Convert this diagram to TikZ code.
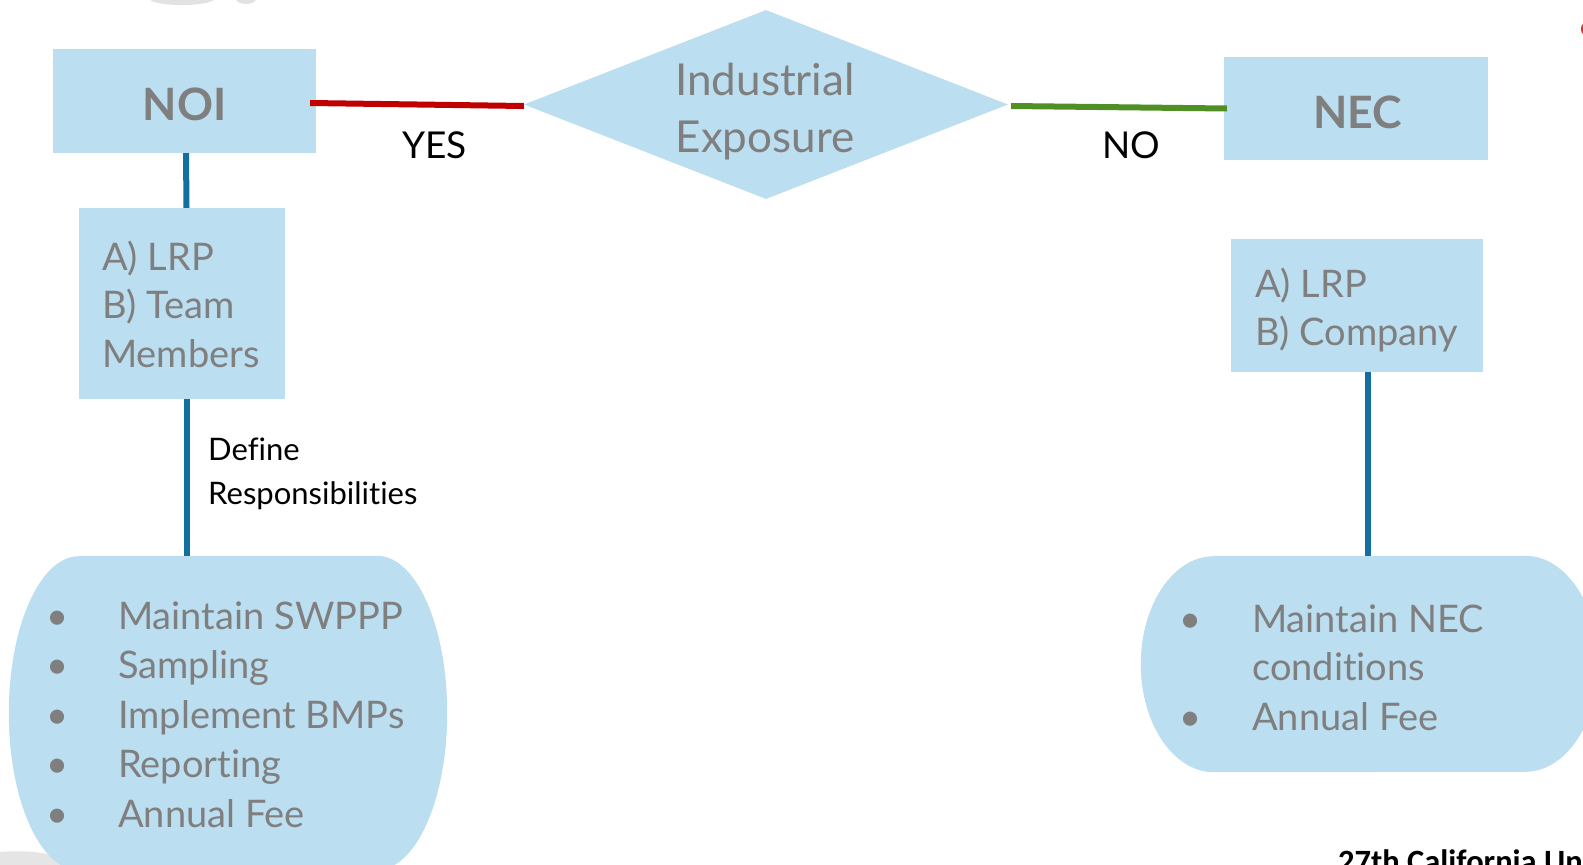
\documentclass[tikz,border=0pt]{standalone}
\usepackage{fontspec}
\setmainfont{Lato}[Ligatures=NoCommon]
\newfontfamily\footfont{Carlito}
\usetikzlibrary{shapes.geometric,calc}
\definecolor{bxfill}{HTML}{BBDEF0}
\definecolor{txtgray}{HTML}{7F7F7F}
\definecolor{linkblue}{HTML}{136FA0}
\definecolor{yesred}{HTML}{C00000}
\definecolor{nogreen}{HTML}{4F8F23}
\begin{document}
\begin{tikzpicture}[x=1pt,y=-1pt,
  bx/.style={fill=bxfill, draw=none, inner sep=0pt},
  ghost/.style={draw=none, inner sep=0pt},
  gtxt/.style={text=txtgray, inner sep=0pt, font=\fontsize{38}{49}\selectfont},
  bigtxt/.style={text=txtgray, inner sep=0pt, font=\fontsize{44}{57}\selectfont},
  bigbold/.style={text=txtgray, inner sep=0pt, font=\fontsize{44.6}{57}\selectfont\bfseries},
  lbl/.style={text=black, inner sep=0pt, font=\fontsize{37}{45}\selectfont},
  smalllbl/.style={text=black, inner sep=0pt, font=\fontsize{31}{44}\selectfont},
  bline/.style={draw=linkblue, line width=6pt},
  rline/.style={draw=yesred, line width=6pt},
  nline/.style={draw=nogreen, line width=6pt},
  bul/.style={text=txtgray, inner sep=0pt, font=\fontsize{38}{49}\selectfont}
]
\clip (0,0) rectangle (1583,865);
\fill[white] (0,0) rectangle (1583,865);
% slide remnants
\fill[gray!45, opacity=0.5] (182,-1) ellipse [x radius=32pt, y radius=6pt];
\fill[gray!45, opacity=0.5] (246,-1) ellipse [x radius=10pt, y radius=5pt];
\fill[yesred!80] (1585,29) ellipse [x radius=4pt, y radius=6pt];
\fill[gray!20] (0,852) .. controls (25,850) and (45,852) .. (60,858) -- (62,866) -- (0,866) -- cycle;

% boxes
\node[bx, minimum width=263pt, minimum height=104pt] (noi) at (184.5,101) {};
\node[bx, minimum width=264pt, minimum height=103pt] (nec) at (1356,108.5) {};
\node[bx, diamond, minimum width=484pt, minimum height=189pt] (expo) at (766,104.5) {};
\node[bx, minimum width=206pt, minimum height=191pt] (lrpL) at (182,303.5) {};
\node[bx, minimum width=252pt, minimum height=133pt] (lrpR) at (1357,305.5) {};
\node[ghost, minimum width=438pt, minimum height=314pt] (dutiesL) at (228,713) {};
\node[ghost, minimum width=457pt, minimum height=216pt] (dutiesR) at (1369.5,664) {};

\fill[bxfill] ($(dutiesL.north west)+(70,0)$) -- ($(dutiesL.north east)+(-70,0)$)
  arc[start angle=90, end angle=-90, x radius=70pt, y radius=157pt]
  -- ($(dutiesL.south west)+(70,0)$)
  arc[start angle=270, end angle=90, x radius=70pt, y radius=157pt] -- cycle;
\fill[bxfill] ($(dutiesR.north west)+(73,0)$) -- ($(dutiesR.north east)+(-73,0)$)
  arc[start angle=90, end angle=-90, x radius=73pt, y radius=108pt]
  -- ($(dutiesR.south west)+(73,0)$)
  arc[start angle=270, end angle=90, x radius=73pt, y radius=108pt] -- cycle;

% connectors
\draw[rline] ($(noi.east)+(-6,2)$) -- ($(expo.west)+(0,1.5)$);
\draw[nline] ($(expo.east)+(3,1.5)$) -- ($(nec.west)+(3,0)$);
\draw[bline] ($(noi.south)+(1.5,0)$) -- ($(lrpL.north)+(4.5,0)$);
\draw[bline] ($(lrpL.south)+(5,0)$) -- ($(dutiesL.north)+(-41,0)$);
\draw[bline] ($(lrpR.south)+(11,0)$) -- ($(dutiesR.north)+(-1.5,0)$);

% texts
\node[bigbold, anchor=base] (noiT) at (184.5,120) {NOI};
\node[bigbold, anchor=base] (necT) at (1357.5,128) {NEC};
\node[bigtxt, anchor=base] (expoT1) at (765,95) {Industrial};
\node[bigtxt, anchor=base] (expoT2) at (765,152) {Exposure};
\node[lbl, anchor=base west] (yesT) at (402,158) {YES};
\node[lbl, anchor=base west] (noT) at (1102,158) {NO};

\node[gtxt, anchor=base west] (lL1) at (102,270) {A) LRP};
\node[gtxt, anchor=base west] (lL2) at (102,318) {B) Team};
\node[gtxt, anchor=base west] (lL3) at (102,367) {Members};
\node[gtxt, anchor=base west] (lR1) at (1255,297) {A) LRP};
\node[gtxt, anchor=base west] (lR2) at (1255,345) {B) Company};

\node[smalllbl, anchor=base west] (def1) at (208,460) {Define};
\node[smalllbl, anchor=base west] (def2) at (208,504) {Responsibilities};

\node[bul, anchor=base] (bL1) at (58,629) {•};
\node[bul, anchor=base] (bL2) at (58,678) {•};
\node[bul, anchor=base] (bL3) at (58,728) {•};
\node[bul, anchor=base] (bL4) at (58,777) {•};
\node[bul, anchor=base] (bL5) at (58,827) {•};
\node[gtxt, anchor=base west] (tL1) at (118,629) {Maintain SWPPP};
\node[gtxt, anchor=base west] (tL2) at (118,678) {Sampling};
\node[gtxt, anchor=base west] (tL3) at (118,728) {Implement BMPs};
\node[gtxt, anchor=base west] (tL4) at (118,777) {Reporting};
\node[gtxt, anchor=base west] (tL5) at (118,827) {Annual Fee};

\node[bul, anchor=base] (bR1) at (1191,632) {•};
\node[bul, anchor=base] (bR3) at (1191,730) {•};
\node[gtxt, anchor=base west] (tR1) at (1252,632) {Maintain NEC};
\node[gtxt, anchor=base west] (tR2) at (1252,680) {conditions};
\node[gtxt, anchor=base west] (tR3) at (1252,730) {Annual Fee};

\node[anchor=base west, inner sep=0pt, font=\footfont\fontsize{32.5}{36}\selectfont\bfseries] (foot) at (1338,872) {27th California Unified};
\end{tikzpicture}
\end{document}
